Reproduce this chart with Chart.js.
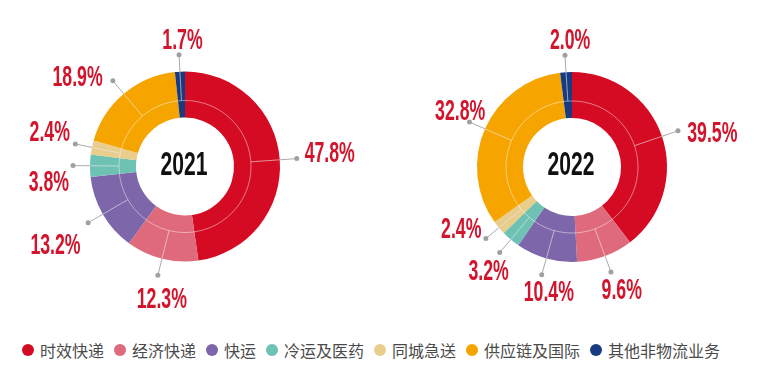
<!DOCTYPE html>
<html>
<head>
<meta charset="utf-8">
<script src="https://cdn.jsdelivr.net/npm/chart.js@4.4.1/dist/chart.umd.min.js"></script>
<style>
  html, body { margin: 0; padding: 0; background: #fff; }
  #wrap { position: relative; width: 761px; height: 377px; overflow: hidden; }
  #c2021 { position: absolute; left: 0; top: 0; }
  #c2022 { position: absolute; left: 380px; top: 0; }
  #legend {
    position: absolute; left: 22px; top: 340px; height: 20px;
    display: flex; align-items: center; white-space: nowrap;
    font: 16px "Noto Sans CJK SC", sans-serif; color: #4a4a4a;
  }
  .item { display: flex; align-items: center; margin-right: 10px; }
  .swatch { width: 12px; height: 12px; border-radius: 50%; margin-right: 6px; }
</style>
</head>
<body>
<div id="wrap">
  <canvas id="c2021" width="380" height="330"></canvas>
  <canvas id="c2022" width="381" height="330"></canvas>
  <div id="legend"></div>
</div>
<script>
// 业务板块
const categories = ["时效快递", "经济快递", "快运", "冷运及医药", "同城急送", "供应链及国际", "其他非物流业务"];
// 收入占比 (%)
const share2021 = [47.8, 12.3, 13.2, 3.8, 2.4, 18.9, 1.7];
const share2022 = [39.5, 9.6, 10.4, 3.2, 2.4, 32.8, 2.0];

const colors = ["#D50B24", "#DE6A7C", "#7D66A9", "#6DC2B4", "#E8CD8C", "#F6A500", "#183A80"];

// 标签微调 (px)，避免重叠
const labelShift2021 = [[0, -6], [12, 5], [-4, 12], [4, 15], [2, -10], [-14, 9], [5, 2]];
const labelShift2022 = [[3, 7], [1, -1], [16, -2], [7, 3], [-3, -23], [21, -5], [7, 2]];

// 压窄字体绘制
function condensedText(ctx, text, x, y, size, squeeze, color) {
    ctx.save();
    ctx.font = `bold ${size}px "Liberation Sans", Arial, sans-serif`;
    ctx.fillStyle = color;
    ctx.textAlign = "center";
    ctx.textBaseline = "alphabetic";
    ctx.translate(x, y + size * 0.358);
    ctx.scale(squeeze, 1);
    ctx.fillText(text, 0, 0);
    ctx.restore();
}

function textHalfWidth(ctx, text, size, squeeze) {
    ctx.save();
    ctx.font = `bold ${size}px "Liberation Sans", Arial, sans-serif`;
    const w = ctx.measureText(text).width * squeeze / 2;
    ctx.restore();
    return w;
}

// 插件：内圈分隔线、引线、百分比标签、年份
const donutLabels = {
    id: "donutLabels",
    afterDatasetsDraw(chart, args, opts) {
        const ctx = chart.ctx;
        const arcs = chart.getDatasetMeta(0).data;
        const values = chart.data.datasets[0].data;
        const first = arcs[0].getProps(["x", "y", "innerRadius", "outerRadius"], true);
        const cx = first.x, cy = first.y;
        const rIn = first.innerRadius, rOut = first.outerRadius;
        const rSplit = rIn + (rOut - rIn) * 0.37;
        const rDot = rOut + 17;

        ctx.save();
        ctx.strokeStyle = "rgba(255,255,255,0.45)";
        ctx.lineWidth = 1;
        ctx.beginPath();
        ctx.arc(cx, cy, rSplit, 0, Math.PI * 2);
        ctx.stroke();
        ctx.restore();

        arcs.forEach((arc, i) => {
            const p = arc.getProps(["startAngle", "endAngle"], true);
            const mid = (p.startAngle + p.endAngle) / 2;
            const ux = Math.cos(mid), uy = Math.sin(mid);

            ctx.save();
            ctx.lineWidth = 1;
            ctx.strokeStyle = "rgba(235,235,235,0.6)";
            ctx.beginPath();
            ctx.moveTo(cx + ux * rSplit, cy + uy * rSplit);
            ctx.lineTo(cx + ux * rOut, cy + uy * rOut);
            ctx.stroke();
            ctx.strokeStyle = "#aaaaaa";
            ctx.beginPath();
            ctx.moveTo(cx + ux * rOut, cy + uy * rOut);
            ctx.lineTo(cx + ux * rDot, cy + uy * rDot);
            ctx.stroke();
            const dx = cx + ux * rDot, dy = cy + uy * rDot;
            ctx.fillStyle = "#a0a0a0";
            ctx.beginPath();
            ctx.arc(dx, dy, 2.5, 0, Math.PI * 2);
            ctx.fill();
            ctx.restore();

            const text = values[i].toFixed(1) + "%";
            const size = 29, squeeze = 0.61;
            const hw = textHalfWidth(ctx, text, size, squeeze);
            const shift = opts.shift[i];
            const tx = dx + ux * 8 + ux * hw + shift[0];
            const ty = dy + uy * 8 + uy * 10.5 + shift[1];
            condensedText(ctx, text, tx, ty, size, squeeze, "#D2142C");
        });

        condensedText(ctx, opts.year, cx - 1, cy - 3.5, 33.5, 0.63, "#111111");
    },
};

function makeDonut(id, values, year, shift, padding) {
    return new Chart(document.getElementById(id), {
        type: "doughnut",
        data: {
            labels: categories,
            datasets: [{
                data: values,
                backgroundColor: colors,
                borderWidth: 0,
            }],
        },
        options: {
            responsive: false,
            animation: false,
            devicePixelRatio: 1,
            cutout: "51.6%",
            layout: { padding: padding },
            plugins: {
                legend: { display: false },
                tooltip: { enabled: false },
                donutLabels: { year: year, shift: shift },
            },
        },
        plugins: [donutLabels],
    });
}

makeDonut("c2021", share2021, "2021", labelShift2021, { left: 90, right: 100, top: 71.5, bottom: 68.5 });
makeDonut("c2022", share2022, "2022", labelShift2022, { left: 97, right: 94, top: 72, bottom: 68 });

// 图例
const legendEl = document.getElementById("legend");
categories.forEach((name, i) => {
    const item = document.createElement("div");
    item.className = "item";
    const sw = document.createElement("span");
    sw.className = "swatch";
    sw.style.background = colors[i];
    const label = document.createElement("span");
    label.textContent = name;
    item.appendChild(sw);
    item.appendChild(label);
    legendEl.appendChild(item);
});
</script>
</body>
</html>
